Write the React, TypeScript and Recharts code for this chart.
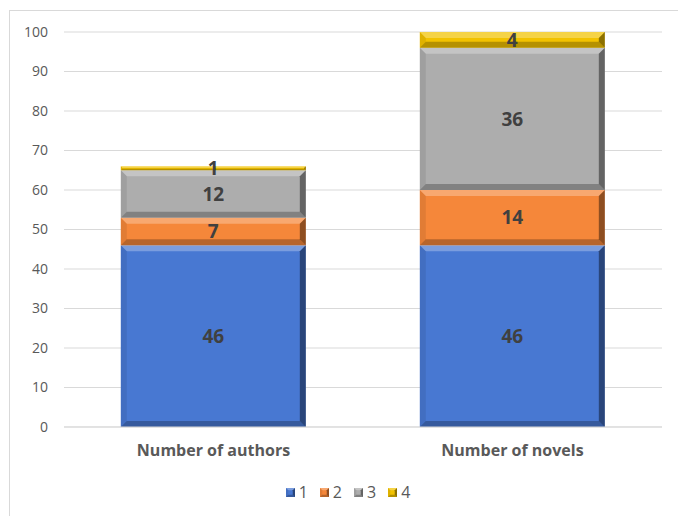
import React from "react";
import { BarChart, Bar, XAxis, YAxis, CartesianGrid, Legend, LabelList } from "recharts";

const categories = ["Number of authors", "Number of novels"];
const series1 = [46, 46];
const series2 = [7, 14];
const series3 = [12, 36];
const series4 = [1, 4];
const seriesNames = ["1", "2", "3", "4"];
const yTicks = [0, 10, 20, 30, 40, 50, 60, 70, 80, 90, 100];

const colors = ["#4878D2", "#F5873A", "#ADADAD", "#F2C200"];

const data = categories.map((c, i) => ({
  name: c,
  s1: series1[i],
  s2: series2[i],
  s3: series3[i],
  s4: series4[i],
}));

const FONT = "'Open Sans', sans-serif";

const Bevel = (props: any) => {
  const { x, y, width: w, height: h, fill } = props;
  if (!w || !h || h <= 0) return null;
  const b = Math.min(6, h / 2.5, w / 4);
  return (
    <g>
      <rect x={x} y={y} width={w} height={h} fill={fill} />
      <polygon
        points={`${x},${y} ${x + w},${y} ${x + w - b},${y + b} ${x + b},${y + b}`}
        fill="#ffffff"
        fillOpacity={0.28}
      />
      <polygon
        points={`${x},${y + h} ${x + w},${y + h} ${x + w - b},${y + h - b} ${x + b},${y + h - b}`}
        fill="#000000"
        fillOpacity={0.25}
      />
      <polygon
        points={`${x},${y} ${x + b},${y + b} ${x + b},${y + h - b} ${x},${y + h}`}
        fill="#000000"
        fillOpacity={0.08}
      />
      <polygon
        points={`${x + w},${y} ${x + w - b},${y + b} ${x + w - b},${y + h - b} ${x + w},${y + h}`}
        fill="#000000"
        fillOpacity={0.42}
      />
    </g>
  );
};

const LegendContent = () => (
  <div
    style={{
      height: 39,
      display: "flex",
      justifyContent: "center",
      alignItems: "flex-start",
      paddingTop: 4,
      paddingLeft: 46,
      boxSizing: "border-box",
      fontFamily: FONT,
      fontSize: 16,
      color: "#595959",
    }}
  >
    {seriesNames.map((n, i) => (
      <div key={n} style={{ display: "flex", alignItems: "center", marginRight: 12 }}>
        <svg width={9} height={9} style={{ marginRight: 4 }}>
          <Bevel x={0} y={0} width={9} height={9} fill={colors[i]} />
        </svg>
        <span>{n}</span>
      </div>
    ))}
  </div>
);

const labelStyle = { fill: "#404040", fontWeight: 700, fontSize: 19, fontFamily: FONT };

export default function App() {
  const keys = ["s1", "s2", "s3", "s4"];
  return (
    <div style={{ position: "absolute", left: 0, top: 0, width: 678, height: 516, background: "#fff" }}>
      <div
        style={{
          position: "absolute",
          left: 9,
          top: 10,
          width: 669,
          height: 506,
          borderLeft: "1px solid #d9d9d9",
          borderTop: "1px solid #d9d9d9",
        }}
      />
      <div style={{ position: "absolute", left: 0, top: 0 }}>
        <BarChart
          width={678}
          height={516}
          data={data}
          margin={{ top: 32, right: 16, left: 0, bottom: 0 }}
          barCategoryGap="19%"
        >
          <CartesianGrid vertical={false} stroke="#d9d9d9" strokeWidth={1} />
          <XAxis
            dataKey="name"
            height={50}
            tickSize={0}
            tickMargin={18}
            axisLine={{ stroke: "#d9d9d9" }}
            tick={{ fill: "#595959", fontSize: 16, fontWeight: 700, fontFamily: FONT }}
          />
          <YAxis
            width={64}
            domain={[0, 100]}
            ticks={yTicks}
            tickSize={0}
            tickMargin={16}
            axisLine={false}
            tickLine={false}
            tick={{ fill: "#595959", fontSize: 14, fontFamily: FONT }}
          />
          <Legend verticalAlign="bottom" height={39} content={<LegendContent />} />
          {keys.map((k, i) => (
            <Bar
              key={k}
              dataKey={k}
              name={seriesNames[i]}
              stackId="a"
              fill={colors[i]}
              shape={<Bevel />}
              isAnimationActive={false}
            >
              <LabelList dataKey={k} position="center" style={labelStyle} />
            </Bar>
          ))}
        </BarChart>
      </div>
    </div>
  );
}
